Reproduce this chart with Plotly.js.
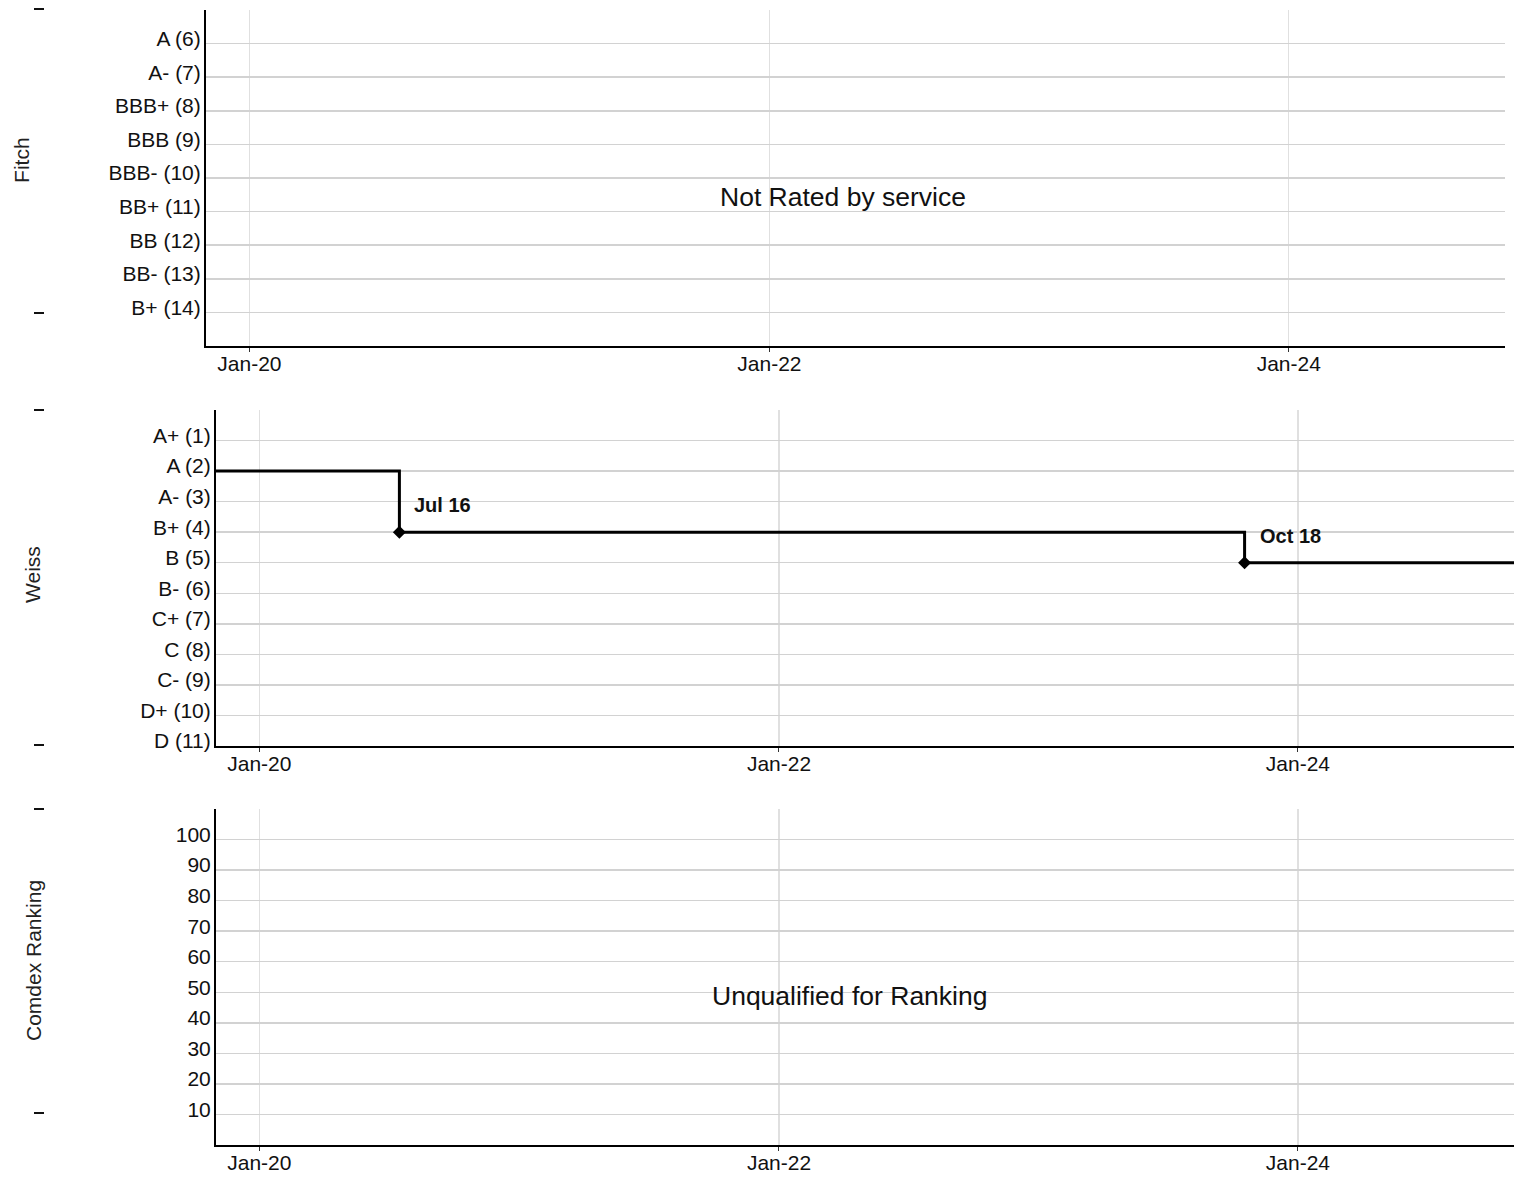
<!DOCTYPE html>
<html>
<head>
<meta charset="utf-8">
<script src="https://cdn.plot.ly/plotly-3.0.1.min.js"></script>
<style>html,body{margin:0;padding:0;background:#fff;}#chart{width:1514px;height:1178px;}</style>
</head>
<body>
<div id="chart"></div>
<script>
// ---- data ----
var xRange = ['2019-11-01', '2024-10-31'];
var xTickVals = ['2020-01-01', '2022-01-01', '2024-01-01'];
var xTickText = ['Jan-20', 'Jan-22', 'Jan-24'];

var fitchTickVals = [5, 6, 7, 8, 9, 10, 11, 12, 13, 14, 15];
var fitchTickText = ['', 'A (6)', 'A- (7)', 'BBB+ (8)', 'BBB (9)', 'BBB- (10)', 'BB+ (11)', 'BB (12)', 'BB- (13)', 'B+ (14)', ''];
var fitchNote = 'Not Rated by service';

var weissTickVals = [0, 1, 2, 3, 4, 5, 6, 7, 8, 9, 10, 11];
var weissTickText = ['', 'A+ (1)', 'A (2)', 'A- (3)', 'B+ (4)', 'B (5)', 'B- (6)', 'C+ (7)', 'C (8)', 'C- (9)', 'D+ (10)', 'D (11)'];
var weissDates = ['2019-11-01', '2020-07-16', '2023-10-18', '2024-10-31'];
var weissValues = [2, 4, 5, 5];
var weissChangeDates = ['2020-07-16', '2023-10-18'];
var weissChangeValues = [4, 5];
var weissChangeLabels = ['Jul 16', 'Oct 18'];

var comdexTickVals = [10, 20, 30, 40, 50, 60, 70, 80, 90, 100, 110];
var comdexTickText = ['10', '20', '30', '40', '50', '60', '70', '80', '90', '100', ''];
var comdexNote = 'Unqualified for Ranking';

var panelTitles = ['Fitch', 'Weiss', 'Comdex Ranking'];

// ---- styling ----
var FONT = 'Liberation Sans, Arial, sans-serif';
var GRID = '#d2d2d2';
var VGRID = '#e0e0e0';

function xAxis(domain, anchor) {
  return {
    domain: domain, anchor: anchor, type: 'date', range: xRange,
    tickmode: 'array', tickvals: xTickVals, ticktext: xTickText,
    showgrid: true, gridcolor: VGRID, gridwidth: 1.5,
    showline: true, linecolor: '#000', linewidth: 2,
    ticks: 'outside', ticklen: 4, tickcolor: '#333', tickwidth: 1,
    ticklabelstandoff: -6,
    tickfont: {family: FONT, size: 21, color: '#111'},
    zeroline: false, fixedrange: true
  };
}
function yAxis(domain, anchor, range, vals, text, shift) {
  return {
    domain: domain, anchor: anchor, range: range,
    tickmode: 'array', tickvals: vals, ticktext: text,
    showgrid: true, gridcolor: GRID, gridwidth: 1.5,
    showline: true, linecolor: '#000', linewidth: 2,
    ticks: '', ticklabelshift: shift, ticklabelstandoff: -1,
    tickfont: {family: FONT, size: 21, color: '#111'},
    zeroline: false, fixedrange: true
  };
}

var traces = [
  {x: xRange, y: [null, null], xaxis: 'x', yaxis: 'y', mode: 'lines', showlegend: false, hoverinfo: 'skip'},
  {x: weissDates, y: weissValues, xaxis: 'x2', yaxis: 'y2', mode: 'lines',
   line: {shape: 'hv', color: '#000', width: 3}, showlegend: false, name: 'Weiss'},
  {x: weissChangeDates, y: weissChangeValues, xaxis: 'x2', yaxis: 'y2', mode: 'markers',
   marker: {symbol: 'diamond', size: 10, color: '#000'}, showlegend: false, name: 'Weiss change'},
  {x: xRange, y: [null, null], xaxis: 'x3', yaxis: 'y3', mode: 'lines', showlegend: false, hoverinfo: 'skip'}
];

var annotations = [
  {text: fitchNote, xref: 'paper', yref: 'paper', x: 0.5568, y: 0.8328, showarrow: false,
   font: {family: FONT, size: 26.5, color: '#111'}, xanchor: 'center', yanchor: 'middle'},
  {text: comdexNote, xref: 'paper', yref: 'paper', x: 0.5608, y: 0.1545, showarrow: false,
   font: {family: FONT, size: 26.5, color: '#111'}, xanchor: 'center', yanchor: 'middle'},
  {text: panelTitles[0], xref: 'paper', yref: 'paper', x: 0.0145, y: 0.8642, textangle: -90, showarrow: false,
   font: {family: FONT, size: 21, color: '#222'}, xanchor: 'center', yanchor: 'middle'},
  {text: panelTitles[1], xref: 'paper', yref: 'paper', x: 0.0218, y: 0.5119, textangle: -90, showarrow: false,
   font: {family: FONT, size: 21, color: '#222'}, xanchor: 'center', yanchor: 'middle'},
  {text: panelTitles[2], xref: 'paper', yref: 'paper', x: 0.0218, y: 0.1842, textangle: -90, showarrow: false,
   font: {family: FONT, size: 21, color: '#222'}, xanchor: 'center', yanchor: 'middle'}
];
for (var i = 0; i < weissChangeDates.length; i++) {
  annotations.push({
    text: '<b>' + weissChangeLabels[i] + '</b>', xref: 'x2', yref: 'y2',
    x: weissChangeDates[i], y: weissChangeValues[i], xshift: 13, yshift: 27,
    xanchor: 'left', yanchor: 'middle', showarrow: false,
    font: {family: FONT, size: 20, color: '#111'}
  });
}

// small dash marks at the left edge of each panel
var dashY = [9, 313, 410, 745, 809, 1113];
var shapes = dashY.map(function (py) {
  return {type: 'line', xref: 'paper', yref: 'paper',
          x0: 34 / 1514, x1: 44 / 1514, y0: 1 - py / 1178, y1: 1 - py / 1178,
          line: {color: '#111', width: 2}};
});

var layout = {
  width: 1514, height: 1178,
  margin: {l: 0, r: 0, t: 0, b: 0, pad: 0},
  paper_bgcolor: '#fff', plot_bgcolor: '#fff',
  showlegend: false,
  font: {family: FONT, color: '#111'},
  xaxis: xAxis([206 / 1514, 1505 / 1514], 'y'),
  yaxis: yAxis([1 - 346 / 1178, 1 - 10 / 1178], 'x', [15, 5], fitchTickVals, fitchTickText, 5),
  xaxis2: xAxis([216 / 1514, 1], 'y2'),
  yaxis2: yAxis([1 - 746 / 1178, 1 - 410 / 1178], 'x2', [11, 0], weissTickVals, weissTickText, 5),
  xaxis3: xAxis([216 / 1514, 1], 'y3'),
  yaxis3: yAxis([1 - 1145 / 1178, 1 - 809 / 1178], 'x3', [0, 110], comdexTickVals, comdexTickText, -5),
  annotations: annotations,
  shapes: shapes
};

Plotly.newPlot('chart', traces, layout, {displayModeBar: false, staticPlot: true});
</script>
</body>
</html>
